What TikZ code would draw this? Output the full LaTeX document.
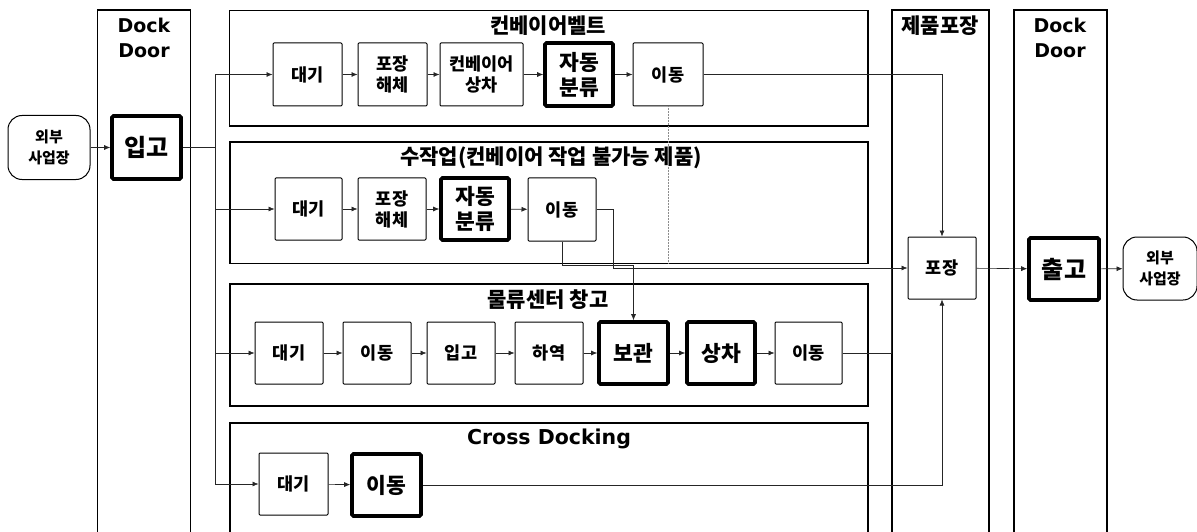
\documentclass[tikz,border=0pt]{standalone}
\usepackage{fontspec}
\setmainfont{Noto Sans CJK KR}
\newfontfamily\lat{DejaVu Sans}
\usetikzlibrary{arrows.meta}
\begin{document}
\begin{tikzpicture}[x=1pt,y=-1pt,
  panel/.style={draw,line width=1.1pt},
  box/.style={draw,line width=1pt,rounded corners=1pt,inner sep=0pt,align=center,
    font=\bfseries\fontsize{17.5}{21}\selectfont},
  tbox/.style={draw,line width=3.6pt,rounded corners=1.5pt,inner sep=0pt,align=center,
    font=\bfseries\fontsize{21.5}{25}\selectfont},
  term/.style={draw,line width=1pt,rounded corners=14pt,inner sep=0pt,align=center,
    font=\bfseries\fontsize{15}{21}\selectfont},
  ttl/.style={font=\bfseries\fontsize{21}{23}\selectfont,inner sep=0pt},
  dtl/.style={font=\lat\bfseries\fontsize{19}{25}\selectfont,align=center,inner sep=0pt},
  conn/.style={line width=0.6pt,draw=black!85},
  arr/.style={conn,-{Latex[length=6pt,width=5pt]}},
  faint/.style={line width=0.5pt,draw=black!45,densely dotted}]
\useasboundingbox (0,0) rectangle (1197,532);
% columns
\draw[panel] (97.5,532) -- (97.5,10) -- (190.5,10) -- (190.5,532);
\draw[panel] (892,532) -- (892,10) -- (989,10) -- (989,532);
\draw[panel] (1014,532) -- (1014,10) -- (1107,10) -- (1107,532);
\node[dtl] (dd1) at (144,38) {Dock\\Door};
\node[ttl] (pkt) at (940,26) {제품포장};
\node[dtl] (dd2) at (1060,38) {Dock\\Door};
% panels
\draw[panel] (229.5,10.5) rectangle (868,126);
\draw[panel] (230,142) rectangle (868,263.5);
\draw[panel] (230,284) rectangle (868,406);
\draw[panel] (230,532) -- (230,423) -- (868,423) -- (868,532);
\node[ttl] (t1) at (548,26) {컨베이어벨트};
\node[ttl] (t2) at (551,158) {수작업(컨베이어 작업 불가능 제품)};
\node[ttl] (t3) at (548,300) {물류센터 창고};
\node[font=\lat\bfseries\fontsize{20.5}{23}\selectfont,inner sep=0pt] (t4) at (549,439) {Cross Docking};
% terminals and in/out
\node[term,minimum width=82pt,minimum height=64pt] (ext1) at (49,147.5) {외부\\사업장};
\node[tbox,minimum width=69pt,minimum height=63pt,font=\bfseries\fontsize{24}{26}\selectfont] (ipgo) at (146.5,147.5) {입고};
\node[box,minimum width=68pt,minimum height=62pt] (pj) at (942,268) {포장};
\node[tbox,minimum width=70pt,minimum height=62pt,font=\bfseries\fontsize{24}{26}\selectfont] (chul) at (1064,269) {출고};
\node[term,minimum width=74pt,minimum height=63pt] (ext2) at (1160,268.5) {외부\\사업장};
% conveyor row
\node[box,minimum width=69pt,minimum height=63pt] (c1) at (307.5,74.5) {대기};
\node[box,minimum width=69pt,minimum height=63pt] (c2) at (392.5,74.5) {포장\\해체};
\node[box,minimum width=83pt,minimum height=63pt] (c3) at (481.5,74.5) {컨베이어\\상차};
\node[tbox,minimum width=68pt,minimum height=63pt] (c4) at (579,74.5) {자동\\분류};
\node[box,minimum width=70pt,minimum height=63pt] (c5) at (668,74.5) {이동};
% manual row
\node[box,minimum width=67pt,minimum height=62pt] (m1) at (308.5,209) {대기};
\node[box,minimum width=68pt,minimum height=62pt] (m2) at (392,209) {포장\\해체};
\node[tbox,minimum width=68pt,minimum height=62pt] (m3) at (475,209) {자동\\분류};
\node[box,minimum width=68pt,minimum height=63pt] (m4) at (562,209.5) {이동};
% warehouse row
\node[box,minimum width=68pt,minimum height=62pt] (w1) at (289,353) {대기};
\node[box,minimum width=68pt,minimum height=62pt] (w2) at (377,353) {이동};
\node[box,minimum width=68pt,minimum height=62pt] (w3) at (461,353) {입고};
\node[box,minimum width=68pt,minimum height=62pt] (w4) at (549,353) {하역};
\node[tbox,minimum width=69pt,minimum height=62pt] (w5) at (633.5,353) {보관};
\node[tbox,minimum width=68pt,minimum height=62pt] (w6) at (721,353) {상차};
\node[box,minimum width=67pt,minimum height=62pt] (w7) at (808.5,353) {이동};
% cross docking row
\node[box,minimum width=69pt,minimum height=62pt] (x1) at (293.5,484) {대기};
\node[tbox,minimum width=69pt,minimum height=62pt] (x2) at (386.5,485) {이동};
% junction coordinates
\coordinate (j0) at (215,147.5);
\coordinate (mj) at (613,268);
\coordinate (mk) at (562,265);
\coordinate (ck) at (668,264);
\coordinate (jw) at (891,268);
% connectors
\draw[arr] (ext1) -- (ipgo);
\draw[conn] (ipgo) -- (j0);
\draw[arr] (j0) |- (c1.west);
\draw[arr] (j0) |- (m1.west);
\draw[arr] (j0) |- (w1.west);
\draw[arr] (j0) |- (x1.west);
\draw[arr] (c1) -- (c2);
\draw[arr] (c2) -- (c3);
\draw[arr] (c3) -- (c4);
\draw[arr] (c4) -- (c5);
\draw[arr] (c5.east) -| (pj.north);
\draw[faint] (c5.south) -- (ck);
\draw[arr] (m1) -- (m2);
\draw[arr] (m2) -- (m3);
\draw[arr] (m3) -- (m4);
\draw[arr] (m4.east) -| (mj) -- (pj.west);
\draw[arr] (m4.south) -- (mk) -| (w5.north);
\draw[arr] (w1) -- (w2);
\draw[arr] (w2) -- (w3);
\draw[arr] (w3) -- (w4);
\draw[arr] (w4) -- (w5);
\draw[arr] (w5) -- (w6);
\draw[arr] (w6) -- (w7);
\draw[conn] (w7.east) -| (jw);
\draw[arr] (x1) -- (x2);
\draw[arr] (x2.east) -| (pj.south);
\draw[arr] (pj) -- (chul);
\draw[arr] (chul) -- (ext2);
\end{tikzpicture}
\end{document}
